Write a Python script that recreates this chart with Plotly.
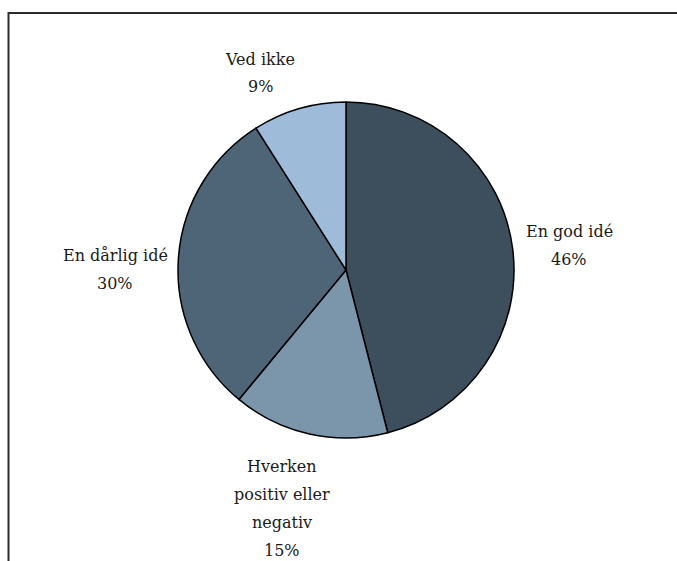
import plotly.graph_objects as go

# Survey answers, clockwise from 12 o'clock
categories = ["En god idé", "Hverken positiv eller negativ", "En dårlig idé", "Ved ikke"]
shares = [46, 15, 30, 9]
label_lines = [["En god idé"], ["Hverken", "positiv eller", "negativ"], ["En dårlig idé"], ["Ved ikke"]]
slice_colors = ["#3d4e5d", "#7b95ab", "#4e6577", "#9ebbd9"]

W, H = 677, 561
FONT = "DejaVu Serif"

fig = go.Figure(go.Pie(
    labels=categories,
    values=shares,
    sort=False,
    direction="clockwise",
    rotation=0,
    textinfo="none",
    hoverinfo="label+percent",
    marker=dict(colors=slice_colors, line=dict(color="#000000", width=1.5)),
    domain=dict(x=[178 / W, 514 / W], y=[(H - 438) / H, (H - 102) / H]),
    showlegend=False,
))

# Label anchor (centre x, first-line y) in pixels for each slice
label_anchor = [(569, 231), (282, 466), (115, 255), (260, 59)]
LINE_H = 28

annotations = []
for lines, share, (cx, cy) in zip(label_lines, shares, label_anchor):
    for i, txt in enumerate(lines + [f"{share}%"]):
        annotations.append(dict(
            x=cx / W, y=1 - (cy + i * LINE_H) / H, xref="paper", yref="paper",
            text=txt, showarrow=False, xanchor="center", yanchor="middle",
            font=dict(family=FONT, size=16, color="#1a1a1a"),
        ))

fig.update_layout(
    width=W, height=H,
    margin=dict(l=0, r=0, t=0, b=0),
    paper_bgcolor="white",
    plot_bgcolor="white",
    font=dict(family=FONT),
    annotations=annotations,
    shapes=[
        dict(type="line", xref="paper", yref="paper", x0=8.5 / W, x1=1.0,
             y0=1 - 13 / H, y1=1 - 13 / H, line=dict(color="#2b2b2b", width=2)),
        dict(type="line", xref="paper", yref="paper", x0=8.5 / W, x1=8.5 / W,
             y0=0, y1=1 - 12 / H, line=dict(color="#2b2b2b", width=2)),
    ],
)

fig.write_html("out.html")
